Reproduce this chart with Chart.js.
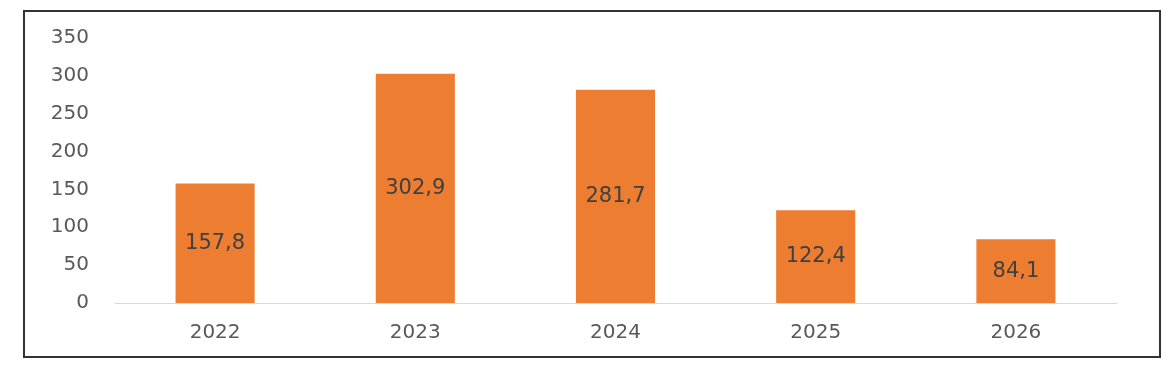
<!DOCTYPE html>
<html>
<head>
<meta charset="utf-8">
<script src="https://cdn.jsdelivr.net/npm/chart.js@4"></script>
<style>
  html, body { margin: 0; padding: 0; background: #fff; }
  #wrap { position: relative; width: 1168px; height: 367px; }
  #frame {
    position: absolute; left: 23px; top: 10px; width: 1134px; height: 344px;
    border: 2px solid #333; pointer-events: none;
  }
</style>
</head>
<body>
<div id="wrap">
  <canvas id="chartBar" width="1168" height="367"></canvas>
  <div id="frame"></div>
</div>
<script>
// Данные графика
const years = ['2022', '2023', '2024', '2025', '2026'];
const values = [157.8, 302.9, 281.7, 122.4, 84.1];
const yTicks = [0, 50, 100, 150, 200, 250, 300, 350];

const cht = document.getElementById('chartBar');

// Подписи значений в центре столбцов (с запятой)
const barLabels = {
  id: 'barLabels',
  afterDatasetsDraw(chart) {
    const ctx = chart.ctx;
    const meta = chart.getDatasetMeta(0);
    ctx.save();
    ctx.font = '21px "DejaVu Sans"';
    ctx.fillStyle = '#404040';
    ctx.textAlign = 'center';
    ctx.textBaseline = 'middle';
    meta.data.forEach((bar, i) => {
      const y = (bar.y + bar.base) / 2;
      ctx.fillText(values[i].toFixed(1).replace('.', ','), bar.x, y);
    });
    ctx.restore();
  }
};

const config = {
  type: 'bar',
  data: {
    labels: years,
    datasets: [{
      data: values,
      backgroundColor: '#ED7D31',
      barPercentage: 1,
      categoryPercentage: 0.395
    }]
  },
  options: {
    responsive: false,
    animation: false,
    layout: { padding: { top: 36, right: 52, left: 0, bottom: 0 } },
    plugins: {
      legend: { display: false },
      tooltip: { enabled: false }
    },
    scales: {
      x: {
        grid: { display: false, drawTicks: false },
        border: { display: true, color: '#d9d9d9', width: 1 },
        ticks: {
          color: '#595959',
          font: { family: 'DejaVu Sans', size: 20 },
          padding: 18
        },
        afterFit(scale) { scale.height = 64; }
      },
      y: {
        min: 0,
        max: 350,
        grid: { display: false, drawTicks: false },
        border: { display: false },
        afterBuildTicks(scale) { scale.ticks = yTicks.map(v => ({ value: v })); },
        ticks: {
          color: '#595959',
          font: { family: 'DejaVu Sans', size: 20 },
          padding: 26
        },
        afterFit(scale) { scale.width = 115; }
      }
    }
  },
  plugins: [barLabels]
};

new Chart(cht, config);
</script>
</body>
</html>
